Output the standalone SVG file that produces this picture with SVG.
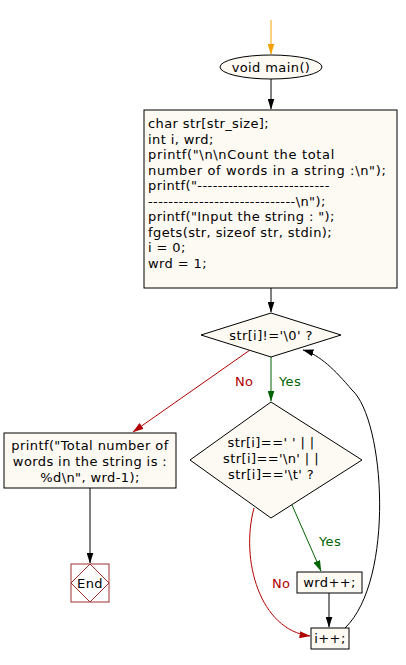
<svg xmlns="http://www.w3.org/2000/svg" width="406" height="665" viewBox="0 0 406 665">
<style>
text{font-family:"DejaVu Sans","Liberation Sans",sans-serif;font-size:13px;letter-spacing:0.4px;fill:#000}
.wide{letter-spacing:0.65px}
.node{fill:#fdf9f3;stroke:#000;stroke-width:1}
.c{text-anchor:middle}
.ln{fill:none;stroke:#000;stroke-width:1}
.red{fill:none;stroke:#b00000;stroke-width:1}
.grn{fill:none;stroke:#006400;stroke-width:1}
</style>
<defs>
<marker id="ab" markerWidth="11" markerHeight="7" refX="10.5" refY="3.5" orient="auto" markerUnits="userSpaceOnUse" viewBox="0 0 11 7"><path d="M0,0 L11,3.5 L0,7 Z" fill="#000"/></marker>
<marker id="ar" markerWidth="11" markerHeight="7" refX="10.5" refY="3.5" orient="auto" markerUnits="userSpaceOnUse" viewBox="0 0 11 7"><path d="M0,0 L11,3.5 L0,7 Z" fill="#b00000"/></marker>
<marker id="ag" markerWidth="11" markerHeight="7" refX="10.5" refY="3.5" orient="auto" markerUnits="userSpaceOnUse" viewBox="0 0 11 7"><path d="M0,0 L11,3.5 L0,7 Z" fill="#006400"/></marker>
<marker id="ao" markerWidth="11" markerHeight="7" refX="10.5" refY="3.5" orient="auto" markerUnits="userSpaceOnUse" viewBox="0 0 11 7"><path d="M0,0 L11,3.5 L0,7 Z" fill="#f5a000"/></marker>
</defs>
<rect width="406" height="665" fill="#fff"/>
<g id="connectors">
<path d="M271,20 V54" fill="none" stroke="#f5a000" stroke-width="1" marker-end="url(#ao)"/>
<path class="ln" d="M271,79 V109" marker-end="url(#ab)"/>
<path class="ln" d="M271,288 V312" marker-end="url(#ab)"/>
<path class="grn" d="M271,357 V401" marker-end="url(#ag)"/>
<path class="red" d="M250,350 L133,432" marker-end="url(#ar)"/>
<path class="ln" d="M90,488 V563" marker-end="url(#ab)"/>
<path class="grn" d="M292,505 L321,571" marker-end="url(#ag)"/>
<path class="ln" d="M329,593 V627" marker-end="url(#ab)"/>
<path class="red" d="M254,508 C240,560 260,630 310,636" marker-end="url(#ar)"/>
<path class="ln" d="M345,628 C395,580 385,420 352,390 C335,370 320,355 303,350" marker-end="url(#ab)"/>
<text x="235" y="386" style="fill:#b00000">No</text>
<text x="279" y="386" style="fill:#006400">Yes</text>
<text x="319" y="546" style="fill:#006400">Yes</text>
<text x="272" y="588" style="fill:#b00000">No</text>
</g>
<g id="start">
<ellipse class="node" cx="271" cy="67" rx="51" ry="12"/>
<text class="c" x="271" y="72">void main()</text>
</g>
<g id="init">
<rect class="node" x="144" y="110" width="253" height="178"/>
<text x="148" y="128">char str[str_size];</text>
<text x="148" y="143.5">int i, wrd;</text>
<text class="wide" x="148" y="159">printf("\n\nCount the total</text>
<text class="wide" x="148" y="174.5">number of words in a string :\n");</text>
<text x="148" y="190">printf("--------------------------</text>
<text x="148" y="205.5">-----------------------------\n");</text>
<text x="148" y="221">printf("Input the string : ");</text>
<text x="148" y="236.5">fgets(str, sizeof str, stdin);</text>
<text x="148" y="252">i = 0;</text>
<text x="148" y="267.5">wrd = 1;</text>
</g>
<g id="cond1">
<polygon class="node" points="271,313 341,335 271,357 201,335"/>
<text class="c" x="271" y="340">str[i]!='\0' ?</text>
</g>
<g id="cond2">
<polygon class="node" points="271,402 362,460 271,518 190,460"/>
<text class="c" x="271" y="447">str[i]==' ' | |</text>
<text class="c" x="271" y="463">str[i]=='\n' | |</text>
<text class="c" x="271" y="479">str[i]=='\t' ?</text>
</g>
<g id="print">
<rect class="node" x="4" y="433" width="172" height="55"/>
<text class="c" x="90" y="450">printf("Total number of</text>
<text class="c" x="90" y="466">words in the string is :</text>
<text class="c" x="90" y="482">%d\n", wrd-1);</text>
</g>
<g id="end">
<rect x="71" y="564" width="38" height="38" fill="#fff" stroke="#a03030" stroke-width="1"/>
<polygon points="90,564 109,583 90,602 71,583" fill="none" stroke="#a03030" stroke-width="1"/>
<text class="c" x="90" y="588">End</text>
</g>
<g id="wrdinc">
<rect class="node" x="297" y="572" width="65" height="21"/>
<text class="c" x="329.5" y="587">wrd++;</text>
</g>
<g id="iinc">
<rect class="node" x="311" y="628" width="38" height="21"/>
<text class="c" x="330" y="643">i++;</text>
</g>
</svg>
